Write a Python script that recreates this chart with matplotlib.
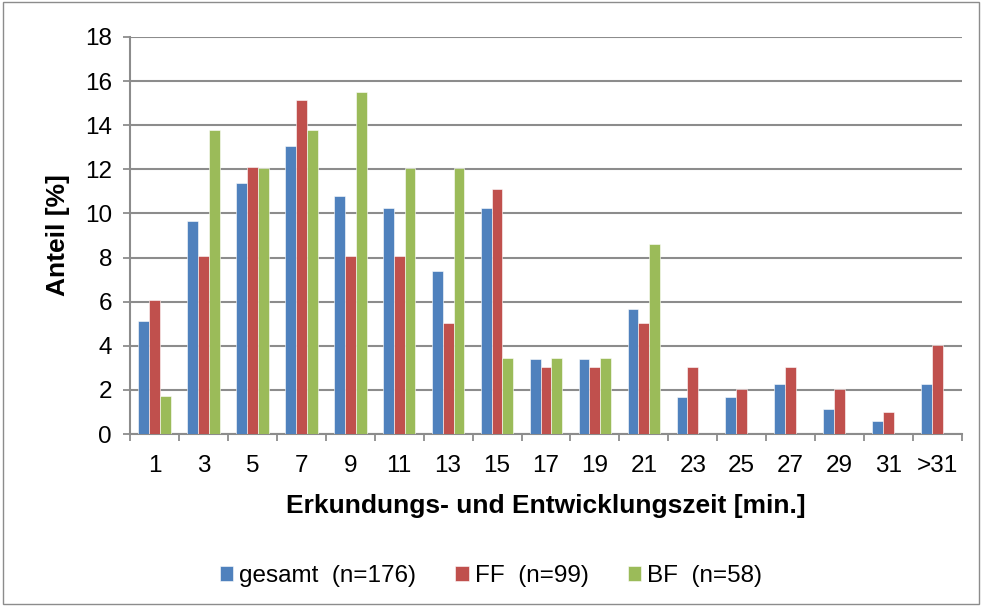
import numpy as np
import matplotlib.pyplot as plt
from matplotlib.patches import Rectangle

plt.rcParams['font.family'] = ['Liberation Sans', 'DejaVu Sans']

# data (Anteil in %)
categories = ['1', '3', '5', '7', '9', '11', '13', '15', '17', '19', '21',
              '23', '25', '27', '29', '31', '>31']
gesamt = [5.11, 9.66, 11.36, 13.07, 10.80, 10.23, 7.39, 10.23, 3.41, 3.41,
          5.68, 1.70, 1.70, 2.27, 1.14, 0.57, 2.27]
ff = [6.06, 8.08, 12.12, 15.15, 8.08, 8.08, 5.05, 11.11, 3.03, 3.03,
      5.05, 3.03, 2.02, 3.03, 2.02, 1.01, 4.04]
bf = [1.72, 13.79, 12.07, 13.79, 15.52, 12.07, 12.07, 3.45, 3.45, 3.45,
      8.62, 0, 0, 0, 0, 0, 0]
series_names = ['gesamt  (n=176)', 'FF  (n=99)', 'BF  (n=58)']
colors = ['#4F81BD', '#C0504D', '#9BBB59']

fig = plt.figure(figsize=(9.82, 6.06), dpi=100)
ax = fig.add_axes([0.1324, 0.2838, 0.8472, 0.6552])

x = np.arange(len(categories))
w = 0.222
for i, (vals, name, c) in enumerate(zip([gesamt, ff, bf], series_names, colors)):
    ax.bar(x + (i - 1) * w, vals, width=w, color=c, label=name,
           edgecolor='white', linewidth=0.4, zorder=3)

ax.set_xlim(-0.5, len(categories) - 0.5)
ax.set_ylim(0, 18)
ax.set_yticks(range(0, 19, 2))
ax.yaxis.grid(True, color='#8c8c8c', linewidth=1.5, zorder=0)
ax.set_axisbelow(True)

# categories labelled at centres, tick marks at the group boundaries
ax.set_xticks(x)
ax.set_xticklabels(categories)
ax.set_xticks(np.arange(-0.5, len(categories), 1), minor=True)
ax.tick_params(axis='x', which='major', length=0, labelsize=17.5, pad=15)
ax.tick_params(axis='x', which='minor', length=5, color='#8c8c8c', width=1.3)
ax.tick_params(axis='y', length=5, color='#8c8c8c', width=1.3, labelsize=17.5, pad=8)

for s in ['top', 'right']:
    ax.spines[s].set_visible(False)
for s in ['left', 'bottom']:
    ax.spines[s].set_color('#8c8c8c')
    ax.spines[s].set_linewidth(1.5)

ax.set_ylabel('Anteil [%]', fontsize=19, fontweight='bold')
ax.set_xlabel('Erkundungs- und Entwicklungszeit [min.]', fontsize=19,
              fontweight='bold')
ax.yaxis.set_label_coords(-0.072, 0.5)
ax.xaxis.set_label_coords(0.5, -0.15)

leg = fig.legend(loc='center', bbox_to_anchor=(0.5, 0.049), ncol=3,
                 frameon=False, fontsize=17.5, handlelength=0.55,
                 handleheight=0.55, handletextpad=0.25, columnspacing=1.6)

# outer chart border
fig.patches.append(Rectangle((0.003, 0.003), 0.994, 0.994, transform=fig.transFigure,
                             fill=False, edgecolor='#8c8c8c', linewidth=1))

fig.savefig('out.png', dpi=100)
